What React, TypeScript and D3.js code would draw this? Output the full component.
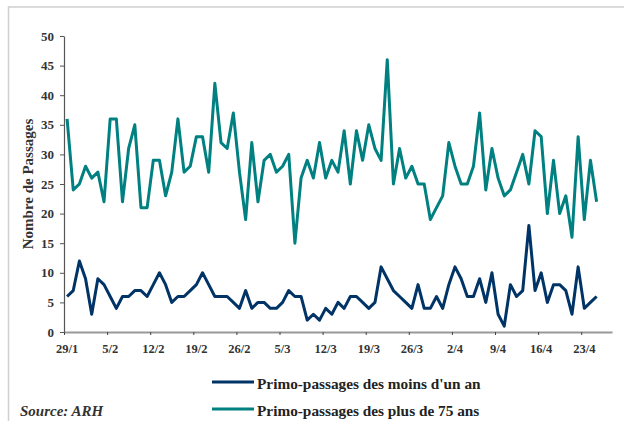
import React, { Component } from "react";
import * as d3 from "d3";

// tick labels, one per week starting 29/1
const tickLabels = ["29/1", "5/2", "12/2", "19/2", "26/2", "5/3", "12/3", "19/3", "26/3", "2/4", "9/4", "16/4", "23/4"];

// daily values, 29/1 -> 25/4
const moinsUnAn = [
  6, 7, 12, 9, 3, 9, 8, 6, 4, 6,
  6, 7, 7, 6, 8, 10, 8, 5, 6, 6,
  7, 8, 10, 8, 6, 6, 6, 5, 4, 7,
  4, 5, 5, 4, 4, 5, 7, 6, 6, 2,
  3, 2, 4, 3, 5, 4, 6, 6, 5, 4,
  5, 11, 9, 7, 6, 5, 4, 8, 4, 4,
  6, 4, 8, 11, 9, 6, 6, 9, 5, 10,
  3, 1, 8, 6, 7, 18, 7, 10, 5, 8,
  8, 7, 3, 11, 4, 5, 6,
];

const plus75 = [
  36, 24, 25, 28, 26, 27, 22, 36, 36, 22,
  31, 35, 21, 21, 29, 29, 23, 27, 36, 27,
  28, 33, 33, 27, 42, 32, 31, 37, 27, 19,
  32, 22, 29, 30, 27, 28, 30, 15, 26, 29,
  26, 32, 26, 29, 27, 34, 25, 34, 29, 35,
  31, 29, 46, 25, 31, 26, 28, 25, 25, 19,
  21, 23, 32, 28, 25, 25, 28, 37, 24, 31,
  26, 23, 24, 27, 30, 25, 34, 33, 20, 29,
  20, 23, 16, 33, 19, 29, 22,
];

const seriesNames = ["Primo-passages des moins d'un an", "Primo-passages des plus de 75 ans"];
const seriesColors = ["#003366", "#008080"];

const FONT = "'Liberation Serif', 'Times New Roman', serif";

class App extends Component {
  svgRef = React.createRef<SVGSVGElement>();

  componentDidMount() {
    this.renderChart();
  }
  componentDidUpdate() {
    this.renderChart();
  }

  renderChart() {
    const svg = d3.select(this.svgRef.current);
    svg.selectAll("*").remove();

    const left = 64,
      right = 612,
      top = 36,
      bottom = 332;

    // 89 day slots on the axis, points sit in the middle of each slot
    const xScale = d3.scaleLinear().domain([0, 89]).range([left, right]);
    const yScale = d3.scaleLinear().domain([0, 50]).range([bottom, top]);

    // frame (only top and left edges show)
    svg
      .append("rect")
      .attr("x", 8.5)
      .attr("y", 7)
      .attr("width", 700)
      .attr("height", 500)
      .attr("fill", "none")
      .attr("stroke", "#d0d0d0")
      .attr("stroke-width", 1.5);

    // y axis
    const yAxis = svg
      .append("g")
      .attr("transform", `translate(${left},0)`)
      .call(d3.axisLeft(yScale).tickValues(d3.range(0, 51, 5)).tickSize(4).tickSizeOuter(0).tickPadding(6));
    yAxis.select(".domain").attr("stroke", "#555").attr("stroke-width", 1.2);
    yAxis.selectAll(".tick line").attr("stroke", "#555");
    yAxis
      .selectAll("text")
      .style("font-family", FONT)
      .style("font-size", "13px")
      .style("font-weight", "bold")
      .attr("fill", "#333");

    // x axis: ticks every week, labels centred on the day
    const tickDays = tickLabels.map((d, i) => i * 7);
    const xAxis = svg
      .append("g")
      .attr("transform", `translate(0,${bottom})`)
      .call(d3.axisBottom(xScale).tickValues(tickDays).tickFormat(() => "").tickSize(3).tickSizeOuter(0));
    xAxis.select(".domain").attr("stroke", "#999").attr("stroke-width", 2);
    xAxis.selectAll(".tick line").attr("stroke", "#444");

    svg
      .append("g")
      .selectAll("text")
      .data(tickLabels)
      .join("text")
      .attr("x", (d, i) => xScale(tickDays[i] + 0.5))
      .attr("y", 353)
      .attr("text-anchor", "middle")
      .style("font-family", FONT)
      .style("font-size", "12.5px")
      .style("font-weight", "bold")
      .attr("fill", "#333")
      .text((d) => d);

    // y axis title
    svg
      .append("text")
      .attr("transform", `translate(33,${(top + bottom) / 2}) rotate(-90)`)
      .attr("text-anchor", "middle")
      .style("font-family", FONT)
      .style("font-size", "15px")
      .style("font-weight", "bold")
      .attr("fill", "#333")
      .text("Nombre de Passages");

    // lines
    const line = d3
      .line<number>()
      .x((d, i) => xScale(i + 0.5))
      .y((d) => yScale(d));

    svg
      .append("g")
      .selectAll("path")
      .data([plus75, moinsUnAn])
      .join("path")
      .attr("d", (d) => line(d))
      .attr("fill", "none")
      .attr("stroke", (d, i) => (i === 0 ? seriesColors[1] : seriesColors[0]))
      .attr("stroke-width", 3)
      .attr("stroke-linejoin", "round");

    // legend
    const legendY = [382, 409];
    const legend = svg
      .append("g")
      .selectAll("g")
      .data(seriesNames)
      .join("g")
      .attr("transform", (d, i) => `translate(0,${legendY[i]})`);

    legend
      .append("line")
      .attr("x1", 212)
      .attr("x2", 254)
      .attr("stroke", (d, i) => seriesColors[i])
      .attr("stroke-width", 3);

    legend
      .append("text")
      .attr("x", 257)
      .attr("y", 6.5)
      .style("font-family", FONT)
      .style("font-size", "15.3px")
      .style("font-weight", "bold")
      .attr("fill", "#222")
      .text((d) => d);

    svg
      .append("text")
      .attr("x", 20)
      .attr("y", 415.5)
      .style("font-family", FONT)
      .style("font-size", "15px")
      .style("font-weight", "bold")
      .style("font-style", "italic")
      .attr("fill", "#333")
      .text("Source: ARH");
  }

  render() {
    return (
      <svg
        ref={this.svgRef}
        width={624}
        height={421}
        style={{ position: "absolute", left: 0, top: 0, background: "#fff" }}
      ></svg>
    );
  }
}

export default App;
